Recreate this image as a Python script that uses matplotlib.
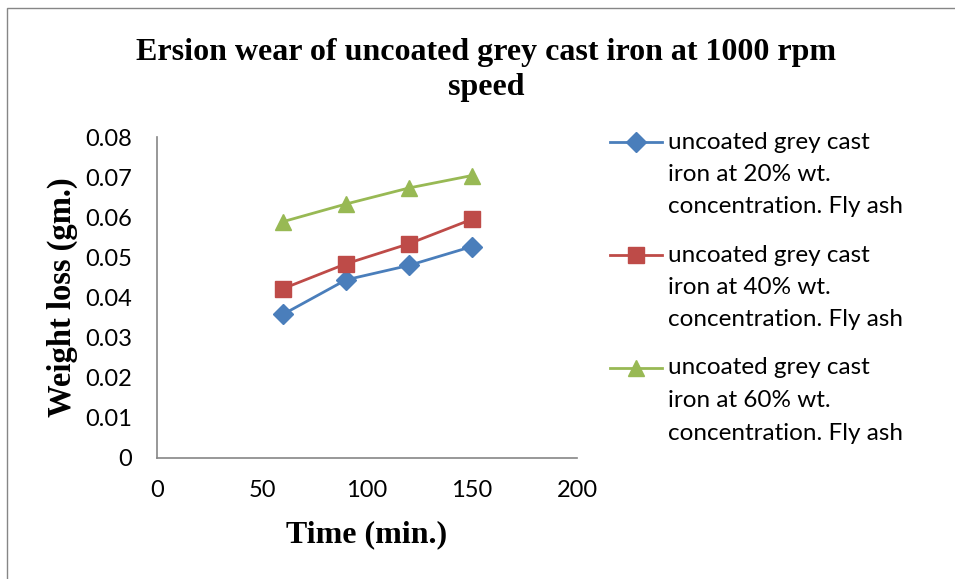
import matplotlib.pyplot as plt
from matplotlib.patches import Rectangle
from matplotlib.lines import Line2D
from matplotlib.ticker import FuncFormatter

# data
time_min = [60, 90, 120, 150]
loss_20 = [0.0358, 0.0444, 0.0480, 0.0527]
loss_40 = [0.0422, 0.0484, 0.0534, 0.0595]
loss_60 = [0.0589, 0.0633, 0.0673, 0.0704]
labels = [['uncoated grey cast', 'iron at 20% wt.', 'concentration. Fly ash'],
          ['uncoated grey cast', 'iron at 40% wt.', 'concentration. Fly ash'],
          ['uncoated grey cast', 'iron at 60% wt.', 'concentration. Fly ash']]
colors = ['#4A7EBB', '#BE4B48', '#98B954']
markers = [('D', 10.5), ('s', 11), ('^', 12)]

plt.rcParams['font.family'] = ['Lato', 'DejaVu Sans']

W, H = 955, 579
fig = plt.figure(figsize=(W / 100, H / 100), dpi=100)
ax = fig.add_axes([157 / W, 1 - 458 / H, 420 / W, 321 / H])

# chart area border (only left and top visible in the picture)
fig.patches.append(Rectangle((7 / W, -0.1), 1.2, 1.1 - 8 / H, transform=fig.transFigure,
                             fill=False, edgecolor='#868686', linewidth=1.0))

series = [loss_20, loss_40, loss_60]
for vals, c, (m, ms) in zip(series, colors, markers):
    ax.plot(time_min, vals, color=c, marker=m, markersize=ms, linewidth=2)

ax.set_xlim(0, 200)
ax.set_ylim(0, 0.08)
ax.set_xticks([0, 50, 100, 150, 200])
ax.set_yticks([0, 0.01, 0.02, 0.03, 0.04, 0.05, 0.06, 0.07, 0.08])
ax.yaxis.set_major_formatter(FuncFormatter(lambda v, p: '0' if v == 0 else f'{v:.2f}'))
ax.tick_params(length=0, labelsize=17)
ax.tick_params(axis='y', pad=18)
ax.tick_params(axis='x', pad=16)

for s in ['top', 'right']:
    ax.spines[s].set_visible(False)
for s in ['left', 'bottom']:
    ax.spines[s].set_color('#868686')
    ax.spines[s].set_linewidth(1.2)

fig.text(486 / W, 1 - 70 / H, 'Ersion wear of uncoated grey cast iron at 1000 rpm\nspeed',
         ha='center', va='center', fontsize=23, fontweight='bold',
         family='Liberation Serif', linespacing=1.28)
ax.set_xlabel('Time (min.)', fontsize=23, fontweight='bold', family='Liberation Serif', va='center')
ax.xaxis.set_label_coords(0.5, (458 - 535) / 321)
ax.set_ylabel('Weight loss (gm.)', fontsize=23.5, fontweight='bold', family='Liberation Serif', va='center')
ax.yaxis.set_label_coords((62 - 157) / 420, 0.5)

# legend, laid out like the Excel one: handle level with the first text line
for i, (lines, c, (m, ms)) in enumerate(zip(labels, colors, markers)):
    y0 = 142 + 113 * i
    fig.add_artist(Line2D([610 / W, 662 / W], [1 - y0 / H] * 2, transform=fig.transFigure,
                          color=c, linewidth=2))
    fig.add_artist(Line2D([636 / W], [1 - y0 / H], transform=fig.transFigure,
                          color=c, marker=m, markersize=ms, linestyle='none'))
    for k, txt in enumerate(lines):
        fig.text(668 / W, 1 - (y0 + 32.5 * k) / H, txt, ha='left', va='center', fontsize=17.5)

fig.savefig('out.png', dpi=100)
